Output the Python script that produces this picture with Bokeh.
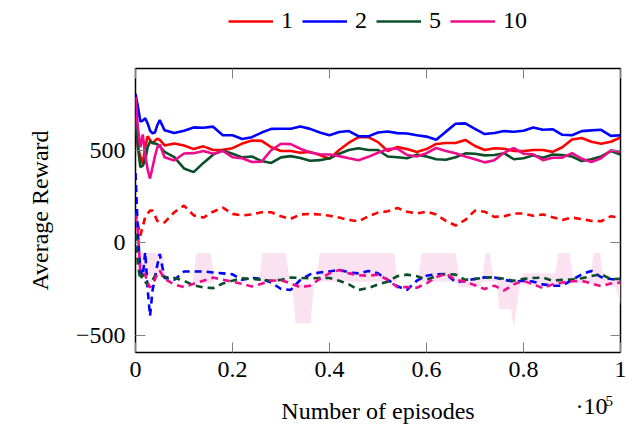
from bokeh.plotting import figure
from bokeh.layouts import column
from bokeh.models import Range1d, FixedTicker, LinearAxis, Legend, LegendItem, Label
from bokeh.embed import file_html
from bokeh.resources import INLINE

# episodes (x 10^5)
episodes = [0, 0.005, 0.01, 0.015, 0.02, 0.025, 0.03, 0.035, 0.04, 0.045, 0.05,
            0.06, 0.08, 0.10, 0.12, 0.14, 0.16, 0.18, 0.20, 0.22, 0.24, 0.26, 0.28, 0.30,
            0.32, 0.34, 0.36, 0.38, 0.40, 0.42, 0.44, 0.46, 0.48, 0.50,
            0.52, 0.54, 0.56, 0.58, 0.60, 0.62, 0.64, 0.66, 0.68, 0.70, 0.72, 0.74, 0.76,
            0.78, 0.80, 0.82, 0.84, 0.86, 0.88, 0.90, 0.92, 0.94, 0.96, 0.98, 1.00]

# solid lines
red_solid = [680, 520, 470, 430, 520, 580, 560, 540, 555, 567, 560,
             530, 540, 530, 510, 525, 505, 506, 515, 540, 557, 555, 520, 500,
             500, 490, 495, 478, 458, 505, 545, 575, 575, 548,
             500, 522, 510, 495, 510, 538, 543, 543, 560, 527, 505, 515, 512,
             500, 499, 505, 505, 495, 520, 562, 570, 550, 539, 550, 573]
blue_solid = [811, 740, 660, 665, 678, 650, 610, 596, 600, 640, 668,
              612, 598, 610, 628, 626, 632, 585, 585, 565, 575, 600, 620, 621,
              621, 633, 620, 600, 585, 603, 608, 580, 579, 600,
              606, 597, 595, 585, 578, 561, 605, 648, 650, 620, 592, 598, 608,
              604, 610, 628, 615, 618, 588, 585, 608, 612, 615, 582, 585]
green_solid = [703, 520, 412, 420, 449, 520, 552, 545, 540, 536, 525,
               495, 466, 405, 385, 435, 480, 503, 485, 465, 470, 445, 435, 465,
               472, 462, 447, 450, 460, 485, 505, 515, 505, 505,
               470, 466, 460, 480, 470, 455, 452, 466, 487, 485, 476, 478, 488,
               455, 460, 476, 463, 481, 478, 470, 445, 455, 470, 499, 481]
magenta_solid = [793, 620, 520, 590, 480, 400, 350, 410, 470, 520, 535,
                 466, 448, 486, 488, 500, 485, 500, 466, 460, 440, 442, 505, 539,
                 537, 512, 492, 482, 481, 472, 460, 450, 468, 490,
                 510, 513, 478, 470, 488, 516, 500, 488, 470, 455, 438, 450, 490,
                 516, 485, 482, 450, 463, 464, 488, 458, 440, 460, 503, 494]

# dashed lines
red_dashed = [170, 100, 40, 90, 140, 160, 176, 176, 150, 120, 112,
              112, 167, 203, 150, 138, 170, 192, 158, 150, 155, 167, 167, 145,
              131, 155, 158, 155, 148, 138, 125, 118, 145, 165,
              172, 190, 170, 160, 170, 155, 120, 95, 125, 176, 170, 142, 145,
              160, 160, 148, 155, 140, 125, 138, 130, 120, 118, 145, 136]
blue_dashed = [380, 50, -150, -180, -50, -250, -396, -260, -190, -120, -60,
               -190, -200, -155, -155, -155, -160, -165, -170, -200, -190, -195, -215, -250,
               -255, -200, -170, -160, -155, -145, -160, -165, -152, -165,
               -200, -235, -255, -205, -178, -170, -169, -212, -206, -195, -187, -187, -200,
               -210, -205, -210, -225, -232, -232, -200, -170, -152, -185, -196, -200]
green_dashed = [50, -120, -200, -170, -210, -230, -215, -200, -180, -170, -170,
                -185, -190, -205, -230, -242, -245, -220, -205, -192, -195, -200, -205, -200,
                -188, -190, -192, -190, -190, -205, -225, -255, -245, -225,
                -210, -180, -172, -180, -200, -180, -168, -172, -200, -196, -187, -187, -195,
                -205, -195, -190, -188, -205, -200, -198, -192, -180, -170, -196, -195]
magenta_dashed = [150, 60, -160, -165, -170, -220, -242, -220, -200, -165, -150,
                  -195, -225, -240, -222, -205, -188, -200, -210, -222, -236, -222, -205, -202,
                  -220, -240, -232, -195, -165, -147, -165, -175, -178, -172,
                  -200, -240, -240, -243, -220, -185, -168, -200, -210, -230, -250, -232, -258,
                  -225, -205, -225, -245, -225, -215, -208, -205, -220, -235, -220, -215]

# shaded band
band_x = [0.004, 0.005, 0.057, 0.062, 0.118, 0.126, 0.155, 0.163, 0.255, 0.262, 0.310,
          0.318, 0.323, 0.330, 0.361, 0.368, 0.372, 0.380, 0.534, 0.540, 0.582, 0.590,
          0.660, 0.668, 0.710, 0.715, 0.722, 0.730, 0.738, 0.745, 0.750, 0.774, 0.780,
          0.794, 0.800, 0.865, 0.872, 0.895, 0.902, 0.938, 0.945, 0.958, 0.965, 0.990, 1.0]
band_hi = [-200, -54, -54, -200, -210, -54, -54, -210, -200, -54, -54,
           -210, -220, -220, -220, -220, -210, -54, -54, -210, -210, -54,
           -54, -190, -190, -190, -54, -54, -190, -200, -200, -200, -200,
           -200, -165, -165, -54, -54, -180, -180, -54, -54, -190, -200, -200]
band_lo = [-200, -180, -180, -200, -210, -220, -220, -210, -200, -210, -210,
           -210, -230, -436, -436, -230, -210, -210, -210, -210, -210, -210,
           -210, -240, -240, -210, -210, -210, -210, -210, -360, -360, -460,
           -200, -230, -230, -230, -230, -220, -220, -220, -220, -220, -240, -340]

series_labels = ["1", "2", "5", "10"]
colors = ["#ff0000", "#0000ff", "#0b4f28", "#ec0c8c"]
x_ticks = [0, 0.2, 0.4, 0.6, 0.8, 1]
x_tick_labels = ["0", "0.2", "0.4", "0.6", "0.8", "1"]
y_ticks = [-500, 0, 500]
y_tick_labels = ["\u2212500", "0", "500"]
x_title = "Number of episodes"
y_title = "Average Reward"

FONT = "Liberation Serif"
W = 633
solids = [red_solid, blue_solid, green_solid, magenta_solid]
dashes = [red_dashed, blue_dashed, green_dashed, magenta_dashed]

# ---------- legend strip (frame aligned with the main plot's frame) ----------
leg = figure(width=W, height=46, output_backend="svg", toolbar_location=None,
             x_range=Range1d(0, 1), y_range=Range1d(0, 1),
             x_axis_location=None, y_axis_location=None,
             min_border_left=0, min_border_right=0, min_border_top=0, min_border_bottom=0)
leg.outline_line_color = None
leg.xgrid.visible = False
leg.ygrid.visible = False
# same series drawn here only as legend keys; they fall outside this strip's range
leg_renderers = [leg.line(episodes, ys, line_color=c, line_width=2.6) for ys, c in zip(solids, colors)]
legend = Legend(items=[LegendItem(label=l, renderers=[r]) for l, r in zip(series_labels, leg_renderers)],
                orientation="horizontal", location=(93, 12),
                border_line_color=None, background_fill_alpha=0,
                label_text_font=FONT, label_text_font_size="24px", label_text_color="black",
                glyph_width=45, glyph_height=20, label_standoff=8, spacing=1,
                label_width=20, padding=0, margin=0)
leg.add_layout(legend, "center")

# ---------- main plot ----------
p = figure(width=W, height=344, output_backend="svg", toolbar_location=None,
           x_range=Range1d(0, 1), y_range=Range1d(-595, 948),
           min_border_left=135, min_border_right=13, min_border_top=22, min_border_bottom=38)
p.xgrid.visible = False
p.ygrid.visible = False
p.outline_line_color = "black"
p.outline_line_width = 1.5
p.background_fill_color = "white"
p.border_fill_color = "white"

xax = p.below[0]
yax = p.left[0]

p.varea(x=band_x, y1=band_lo, y2=band_hi, fill_color="#fbe2f0", fill_alpha=1)

for ys, c in zip(dashes, colors):
    p.line(episodes, ys, line_color=c, line_width=2.6, line_dash="7 5")

for ys, c in zip(solids, colors):
    p.line(episodes, ys, line_color=c, line_width=2.6)


def style_axis(ax, ticks, labels, show_labels=True):
    ax.ticker = FixedTicker(ticks=ticks)
    ax.axis_line_color = None
    ax.major_tick_in = 10
    ax.major_tick_out = 0
    ax.major_tick_line_color = "#808080"
    ax.major_tick_line_width = 1
    ax.minor_tick_line_color = None
    ax.major_label_text_font = FONT
    ax.major_label_text_color = "black"
    if show_labels:
        ax.major_label_overrides = {t: l for t, l in zip(ticks, labels)}
        ax.major_label_text_font_size = "24px"
    else:
        # tick marks only on the opposite side of the box
        ax.major_label_overrides = {t: "" for t in ticks}
        ax.major_label_text_font_size = "1px"
        ax.major_label_standoff = 0


style_axis(xax, x_ticks, x_tick_labels)
style_axis(yax, y_ticks, y_tick_labels)
xax.major_label_standoff = 9
yax.major_label_standoff = 10

top_axis = LinearAxis()
style_axis(top_axis, x_ticks, x_tick_labels, show_labels=False)
p.add_layout(top_axis, "above")
right_axis = LinearAxis()
style_axis(right_axis, y_ticks, y_tick_labels, show_labels=False)
p.add_layout(right_axis, "right")

yax.axis_label = y_title
yax.axis_label_text_font = FONT
yax.axis_label_text_font_size = "24px"
yax.axis_label_text_font_style = "normal"
yax.axis_label_text_color = "black"
yax.axis_label_standoff = 20

# ---------- x title strip (frame aligned with the main plot's frame) ----------
bot = figure(width=W, height=38, output_backend="svg", toolbar_location=None,
             x_range=Range1d(0, 1), y_range=Range1d(0, 1),
             x_axis_location=None, y_axis_location=None,
             min_border_left=0, min_border_right=0, min_border_top=0, min_border_bottom=0)
bot.outline_line_color = None
bot.xgrid.visible = False
bot.ygrid.visible = False
bot.add_layout(Label(x=0.5, y=18, x_units="data", y_units="screen", text=x_title,
                     text_font=FONT, text_font_size="24px", text_align="center",
                     text_baseline="middle", text_color="black"))
bot.add_layout(Label(x=440, y=23, x_units="screen", y_units="screen", text="\u00b710",
                     text_font=FONT, text_font_size="24px", text_baseline="middle",
                     text_color="black"))
bot.add_layout(Label(x=470, y=28, x_units="screen", y_units="screen", text="5",
                     text_font=FONT, text_font_size="15px", text_baseline="middle",
                     text_color="black"))

layout = column(leg, p, bot, spacing=0)
open("out.html", "w").write(file_html(layout, INLINE))
